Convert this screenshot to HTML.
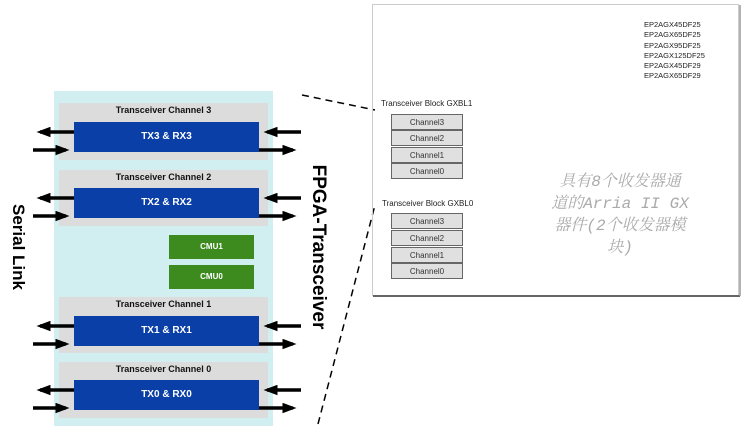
<!DOCTYPE html>
<html><head><meta charset="utf-8"><style>
body{margin:0;width:743px;height:429px;background:#fff;position:relative;overflow:hidden;font-family:"Liberation Sans",sans-serif}
.a{position:absolute}
.g{background:#dcdcdc;left:59px;width:209px}
.g span{display:block;text-align:center;font-size:9px;font-weight:bold;color:#111;margin-top:2px}
.b{background:#0b3fa8;left:74px;width:185px;height:30px;color:#fff;font-weight:bold;font-size:10px;text-align:center;line-height:30px}
.c{background:#3d8a1e;left:169px;width:85px;height:24px;color:#fff;font-weight:bold;font-size:8px;text-align:center;line-height:24px}
.t{left:391px;width:72px;height:16px;background:#e0e0e0;border:1px solid #666;box-sizing:border-box;font-size:8px;text-align:center;line-height:15px;color:#333}
</style></head><body>
<div class="a" style="left:54px;top:91px;width:219px;height:335px;background:#d1eff0"></div>
<div class="a g" style="top:103px;height:57px"><span>Transceiver Channel 3</span></div>
<div class="a g" style="top:170px;height:56px"><span>Transceiver Channel 2</span></div>
<div class="a g" style="top:297px;height:56px"><span>Transceiver Channel 1</span></div>
<div class="a g" style="top:362px;height:56px"><span>Transceiver Channel 0</span></div>
<div class="a b" style="top:122px">TX3 &amp; RX3</div>
<div class="a b" style="top:188px">TX2 &amp; RX2</div>
<div class="a b" style="top:316px">TX1 &amp; RX1</div>
<div class="a b" style="top:380px">TX0 &amp; RX0</div>
<div class="a c" style="top:235px">CMU1</div>
<div class="a c" style="top:265px">CMU0</div>
<svg class="a" style="left:0;top:0" width="743" height="429">
<defs><marker id="h" markerWidth="4" markerHeight="3" refX="3" refY="1.5" orient="auto" markerUnits="strokeWidth"><path d="M0,0L4,1.5L0,3z" fill="#000"/></marker></defs>
<g stroke="#000" stroke-width="3.5" marker-end="url(#h)">
<line x1="74" y1="132" x2="40" y2="132"/><line x1="33" y1="150" x2="66" y2="150"/>
<line x1="301" y1="132" x2="267" y2="132"/><line x1="259" y1="150" x2="293" y2="150"/>
<line x1="74" y1="198" x2="40" y2="198"/><line x1="33" y1="216" x2="66" y2="216"/>
<line x1="301" y1="198" x2="267" y2="198"/><line x1="259" y1="216" x2="293" y2="216"/>
<line x1="74" y1="326" x2="40" y2="326"/><line x1="33" y1="344" x2="66" y2="344"/>
<line x1="301" y1="326" x2="267" y2="326"/><line x1="259" y1="344" x2="293" y2="344"/>
<line x1="74" y1="390" x2="40" y2="390"/><line x1="33" y1="408" x2="66" y2="408"/>
<line x1="301" y1="390" x2="267" y2="390"/><line x1="259" y1="408" x2="293" y2="408"/>
</g>
<g stroke="#000" stroke-width="1.5" stroke-dasharray="7,5">
<line x1="302" y1="95" x2="375" y2="110"/><line x1="318" y1="424" x2="375" y2="205"/>
</g>
<rect x="372.5" y="4.5" width="366" height="291" fill="none" stroke="#ccc"/>
<line x1="373" y1="296" x2="740" y2="296" stroke="#666" stroke-width="2"/>
<line x1="740" y1="5" x2="740" y2="296" stroke="#999" stroke-width="1.5"/>
</svg>
<div class="a" style="left:-42px;top:237px;width:120px;transform:rotate(90deg);text-align:center;font-size:17px;font-weight:bold;line-height:20px;white-space:nowrap">Serial Link</div>
<div class="a" style="left:218px;top:237px;width:200px;transform:rotate(90deg);text-align:center;font-size:19px;font-weight:bold;line-height:20px;white-space:nowrap">FPGA-Transceiver</div>
<div class="a" style="left:644px;top:20px;font-size:7.5px;line-height:10.3px;color:#222">EP2AGX45DF25<br>EP2AGX65DF25<br>EP2AGX95DF25<br>EP2AGX125DF25<br>EP2AGX45DF29<br>EP2AGX65DF29</div>
<div class="a" style="left:381px;top:99px;font-size:8px;color:#222">Transceiver Block GXBL1</div>
<div class="a t" style="top:114px">Channel3</div><div class="a t" style="top:130px">Channel2</div><div class="a t" style="top:147px">Channel1</div><div class="a t" style="top:163px">Channel0</div>
<div class="a" style="left:382px;top:199px;font-size:8px;color:#222">Transceiver Block GXBL0</div>
<div class="a t" style="top:213px">Channel3</div><div class="a t" style="top:230px">Channel2</div><div class="a t" style="top:247px">Channel1</div><div class="a t" style="top:263px">Channel0</div>
<div class="a" style="left:535px;top:171px;width:170px;text-align:center;font-family:'Liberation Mono','Noto Serif CJK SC',serif;font-style:italic;font-size:16px;line-height:22px;color:#aaa">具有8个收发器通<br>道的Arria II GX<br>器件(2个收发器模<br>块)</div>
</body></html>
